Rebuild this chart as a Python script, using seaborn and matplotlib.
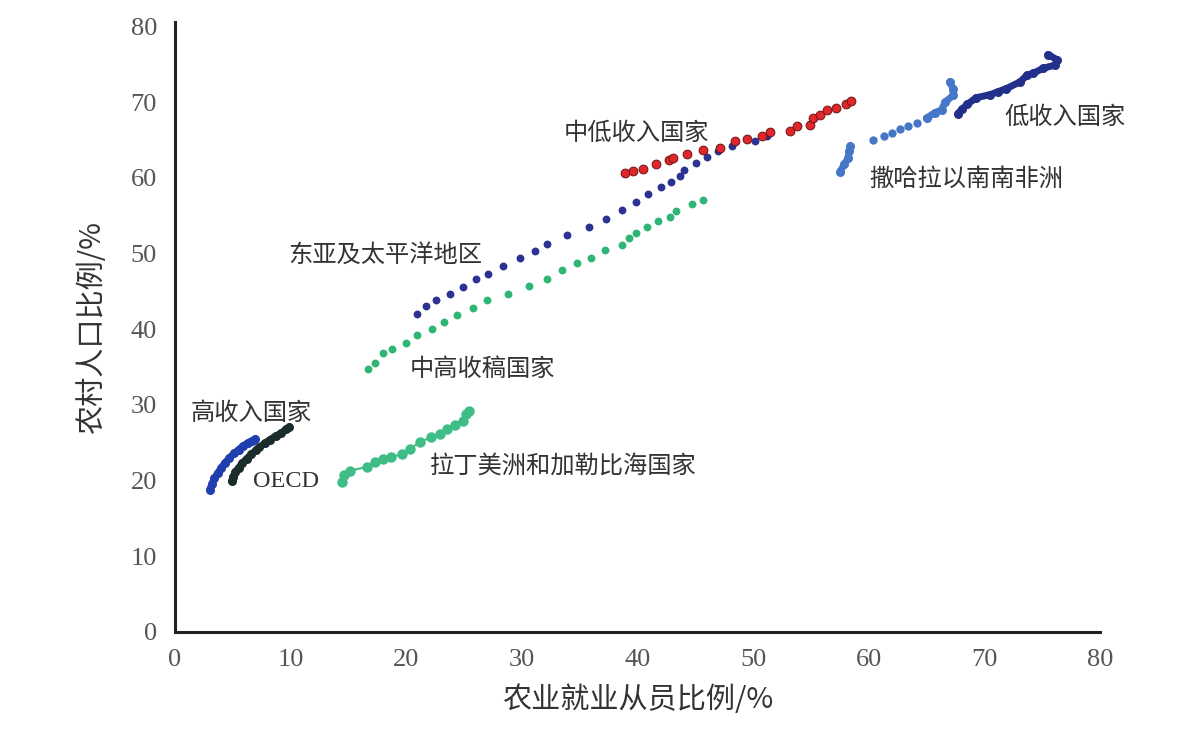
import matplotlib
matplotlib.use("Agg")
import matplotlib.pyplot as plt
import seaborn as sns
import pandas as pd

# ---------------- data ----------------
east_asia_x = [20.9, 21.7, 22.6, 23.8, 24.9, 26.0, 27.1, 28.4, 29.8, 31.1, 32.2, 33.9, 35.8, 37.3,
               38.7, 39.9, 40.9, 42.0, 42.9, 43.7, 44.0, 45.1, 46.0, 47.0, 48.2, 50.2, 51.2]
east_asia_y = [42.0, 43.1, 43.9, 44.6, 45.6, 46.6, 47.3, 48.4, 49.4, 50.3, 51.3, 52.4, 53.5, 54.6,
               55.7, 56.8, 57.9, 58.8, 59.4, 60.2, 61.1, 62.0, 62.8, 63.5, 64.2, 64.9, 65.5]

lower_mid_x = [38.9, 39.6, 40.5, 41.6, 42.7, 43.1, 44.3, 45.7, 47.1, 48.4, 49.5, 50.8, 51.5, 53.2,
               53.8, 54.9, 55.2, 55.8, 56.4, 57.2, 58.0, 58.5]
lower_mid_y = [60.6, 60.9, 61.2, 61.8, 62.3, 62.6, 63.2, 63.7, 63.9, 64.9, 65.2, 65.6, 66.0, 66.2,
               66.8, 67.0, 67.9, 68.3, 69.0, 69.3, 69.7, 70.1]

upper_mid_x = [16.7, 17.3, 18.0, 18.8, 20.0, 20.9, 22.2, 23.3, 24.4, 25.8, 27.0, 28.8, 30.6, 32.2,
               33.5, 34.8, 36.0, 37.2, 38.7, 39.3, 39.9, 40.8, 41.8, 42.8, 43.3, 44.7, 45.7]
upper_mid_y = [34.7, 35.6, 36.8, 37.4, 38.2, 39.3, 40.1, 40.9, 41.9, 42.8, 43.9, 44.7, 45.7, 46.7,
               47.8, 48.8, 49.4, 50.5, 51.2, 52.0, 52.7, 53.5, 54.3, 54.9, 55.6, 56.5, 57.1]

ssa_x = [57.5, 57.9, 58.2, 58.3, 58.4, 60.4, 61.3, 62.0, 62.7, 63.4, 64.2, 65.0, 65.7, 66.3,
         66.6, 67.3, 67.3, 67.0]
ssa_y = [60.8, 61.8, 62.6, 63.5, 64.2, 65.0, 65.5, 65.9, 66.4, 66.8, 67.3, 67.9, 68.6, 69.0,
         70.0, 70.9, 71.8, 72.7]

low_x = [67.7, 68.1, 68.5, 69.3, 70.5, 71.2, 71.9, 73.1, 73.7, 74.2, 75.1, 76.1, 76.3, 75.5]
low_y = [68.5, 69.1, 69.7, 70.6, 71.0, 71.4, 71.8, 72.7, 73.6, 73.8, 74.5, 74.9, 75.6, 76.3]

high_x = [3.0, 3.2, 3.4, 3.7, 4.0, 4.3, 4.7, 5.1, 5.5, 5.9, 6.3, 6.7, 6.9]
high_y = [18.8, 19.6, 20.3, 21.0, 21.7, 22.3, 23.0, 23.6, 24.1, 24.6, 25.0, 25.3, 25.5]

oecd_x = [4.9, 5.0, 5.2, 5.5, 5.8, 6.2, 6.6, 7.0, 7.3, 7.8, 8.2, 8.7, 9.2, 9.6, 9.9]
oecd_y = [19.9, 20.5, 21.1, 21.7, 22.3, 22.9, 23.5, 24.0, 24.4, 25.0, 25.4, 25.9, 26.3, 26.8, 27.1]

latam_x = [14.4, 14.6, 15.1, 16.6, 17.3, 18.0, 18.7, 19.6, 20.3, 21.2, 22.1, 22.9, 23.5, 24.2,
           24.9, 25.2, 25.4]
latam_y = [19.8, 20.7, 21.3, 21.8, 22.4, 22.9, 23.1, 23.5, 24.2, 25.1, 25.7, 26.2, 26.8, 27.3,
           27.9, 28.8, 29.2]

x_ticks = [0, 10, 20, 30, 40, 50, 60, 70, 80]
y_ticks = [0, 10, 20, 30, 40, 50, 60, 70, 80]

labels = ["中低收入国家", "低收入国家", "撒哈拉以南南非洲", "东亚及太平洋地区",
          "中高收稿国家", "高收入国家", "OECD", "拉丁美洲和加勒比海国家"]
label_x = [39.9, 77.0, 68.4, 18.2, 26.6, 6.6, 9.6, 33.6]
label_y = [65.9, 68.1, 59.9, 49.9, 34.8, 28.9, 19.9, 21.9]

x_label = "农业就业从员比例/%"
y_label = "农村人口比例/%"

# ---------------- plotting ----------------
sns.set_theme(style="white")
plt.rcParams["font.family"] = ["Noto Sans CJK SC", "DejaVu Sans"]

fig = plt.figure(figsize=(11.93, 7.37), dpi=100)
ax = fig.add_axes([175 / 1193, 1 - 632 / 737, 925 / 1193, 610 / 737])

def df(x, y):
    return pd.DataFrame({"x": x, "y": y})

# dotted series
sns.scatterplot(data=df(east_asia_x, east_asia_y), x="x", y="y", ax=ax,
                color="#2b3291", s=32, linewidth=0, zorder=3)
sns.scatterplot(data=df(upper_mid_x, upper_mid_y), x="x", y="y", ax=ax,
                color="#2fb574", s=32, linewidth=0, zorder=3)
sns.scatterplot(data=df(lower_mid_x, lower_mid_y), x="x", y="y", ax=ax,
                color="#e0262a", edgecolor="#6e1414", s=40, linewidth=0.7, zorder=4)

# dense (continuous) series
def dense(x, y, color, lw=5, ms=6.5, z=3):
    sns.lineplot(data=df(x, y), x="x", y="y", ax=ax, sort=False, estimator=None,
                 color=color, linewidth=lw, marker="o", markersize=ms,
                 markeredgewidth=0, solid_capstyle="round", zorder=z)

dense(high_x, high_y, "#1f3fae")
dense(oecd_x, oecd_y, "#1b2c2c", z=4)
dense(ssa_x[:5], ssa_y[:5], "#4676c8")
sns.scatterplot(data=df(ssa_x[5:12], ssa_y[5:12]), x="x", y="y", ax=ax,
                color="#4676c8", s=36, linewidth=0, zorder=3)
dense(ssa_x[11:], ssa_y[11:], "#4676c8")
dense(low_x, low_y, "#22308c")

sns.lineplot(data=df(latam_x, latam_y), x="x", y="y", ax=ax, sort=False, estimator=None,
             color="#3fbd86", linewidth=1.5, marker="o", markersize=7.5,
             markeredgewidth=0, zorder=3)

# annotations
for t, lx, ly in zip(labels, label_x, label_y):
    fam = ["Liberation Serif"] if t == "OECD" else ["Noto Sans CJK SC", "DejaVu Sans"]
    ax.text(lx, ly, t, ha="center", va="center", fontsize=17.5, color="#333333", family=fam)

ax.set_xlim(0, 80)
ax.set_ylim(0, 80.6)
ax.set_xticks(x_ticks)
ax.set_yticks(y_ticks)
ax.set_xticklabels([str(v) for v in x_ticks], family="Liberation Serif", fontsize=19, color="#555555")
ax.set_yticklabels([str(v) for v in y_ticks], family="Liberation Serif", fontsize=19, color="#555555")
ax.tick_params(axis="x", length=0, pad=12)
ax.tick_params(axis="y", length=0, pad=13)

for s in ["top", "right"]:
    ax.spines[s].set_visible(False)
for s in ["left", "bottom"]:
    ax.spines[s].set_color("#222222")
    ax.spines[s].set_linewidth(2.2)

ax.set_xlabel(x_label, fontsize=21, color="#333333")
ax.set_ylabel(y_label, fontsize=21, color="#333333")
ax.xaxis.set_label_coords(0.5, (632 - 700) / 610)
ax.xaxis.label.set_va("center")
ax.yaxis.set_label_coords((92 - 175) / 925, 0.5)
ax.yaxis.label.set_va("center")

fig.savefig("out.png", dpi=100, facecolor="white")
